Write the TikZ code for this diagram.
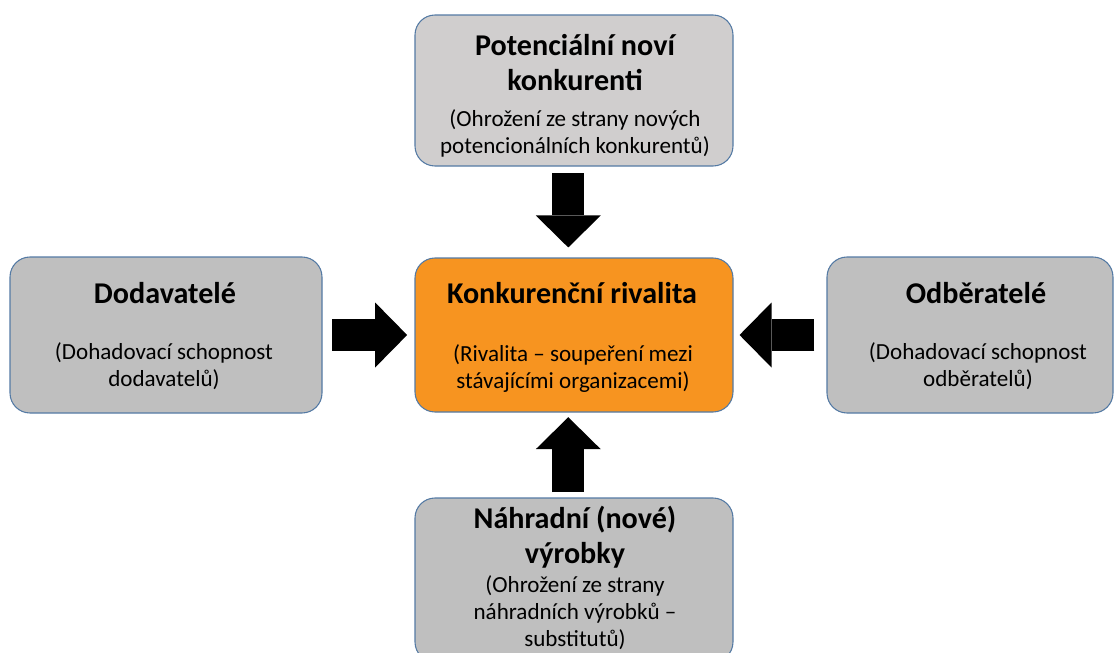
\documentclass[tikz,border=0pt]{standalone}
\usepackage{fontspec}
\setmainfont{Carlito}
\usetikzlibrary{arrows.meta}
\definecolor{boxgray}{RGB}{191,191,191}
\definecolor{boxlight}{RGB}{208,206,206}
\definecolor{rivalorange}{RGB}{247,148,32}
\definecolor{boxline}{RGB}{84,122,164}

\begin{document}
\begin{tikzpicture}[x=0.75pt, y=-0.75pt,
    force/.style={draw=boxline, line width=0.8pt, rounded corners=15pt, fill=boxgray, inner sep=0pt},
    ttl/.style={font=\fontsize{22.6}{26.25}\selectfont\bfseries, align=center, anchor=base, inner sep=0pt},
    sub/.style={font=\fontsize{17.3}{20}\selectfont, align=center, anchor=base, inner sep=0pt},
    push/.style={line width=24pt, -{Triangle[width=48.75pt, length=24pt, line width=0pt]}}]
  \useasboundingbox (0,0) rectangle (1114,653);

  % the five forces (base = last line)
  \node[force, fill=rivalorange, minimum width=238.5pt, minimum height=115.5pt] (rival) at (574,335) {};
  \node[force, fill=boxlight, minimum width=238.5pt, minimum height=113.25pt] (entrants) at (574,90.5) {};
  \node[force, minimum width=234pt, minimum height=117pt] (suppliers) at (166,335) {};
  \node[force, minimum width=214.5pt, minimum height=117pt] (buyers) at (970,335) {};
  \node[force, minimum width=238.5pt, minimum height=123pt] (substitutes) at (574,580) {};

  \node[ttl] (entrants-t) at (575,90.5) {Potenciální noví\\konkurenti};
  \node[sub] (entrants-s) at (575,153) {(Ohrožení ze strany nových\\potencionálních konkurentů)};
  \node[ttl] (rival-t) at (572,303) {Konkurenční rivalita};
  \node[sub] (rival-s) at (573,388) {(Rivalita – soupeření mezi\\stávajícími organizacemi)};
  \node[ttl] (suppliers-t) at (165,303) {Dodavatelé};
  \node[sub] (suppliers-s) at (164,386) {(Dohadovací schopnost\\dodavatelů)};
  \node[ttl] (buyers-t) at (976,303) {Odběratelé};
  \node[sub] (buyers-s) at (978,386) {(Dohadovací schopnost\\odběratelů)};
  \node[ttl] (substitutes-t) at (575,563) {Náhradní (nové)\\výrobky};
  \node[sub] (substitutes-s) at (575,646) {(Ohrožení ze strany\\náhradních výrobků –\\substitutů)};

  % block arrows
  \draw[push, shorten <=5pt, shorten >=7.5pt] ([xshift=-4.3pt]entrants.south) -- ([xshift=-4.3pt]rival.north);
  \draw[push, shorten <=7.3pt, shorten >=5.5pt] (suppliers.east) -- (rival.west);
  \draw[push, shorten <=9pt, shorten >=4.5pt] (buyers.west) -- (rival.east);
  \draw[push, shorten <=4pt, shorten >=3.5pt] ([xshift=-4.3pt]substitutes.north) -- ([xshift=-4.3pt]rival.south);
\end{tikzpicture}
\end{document}
